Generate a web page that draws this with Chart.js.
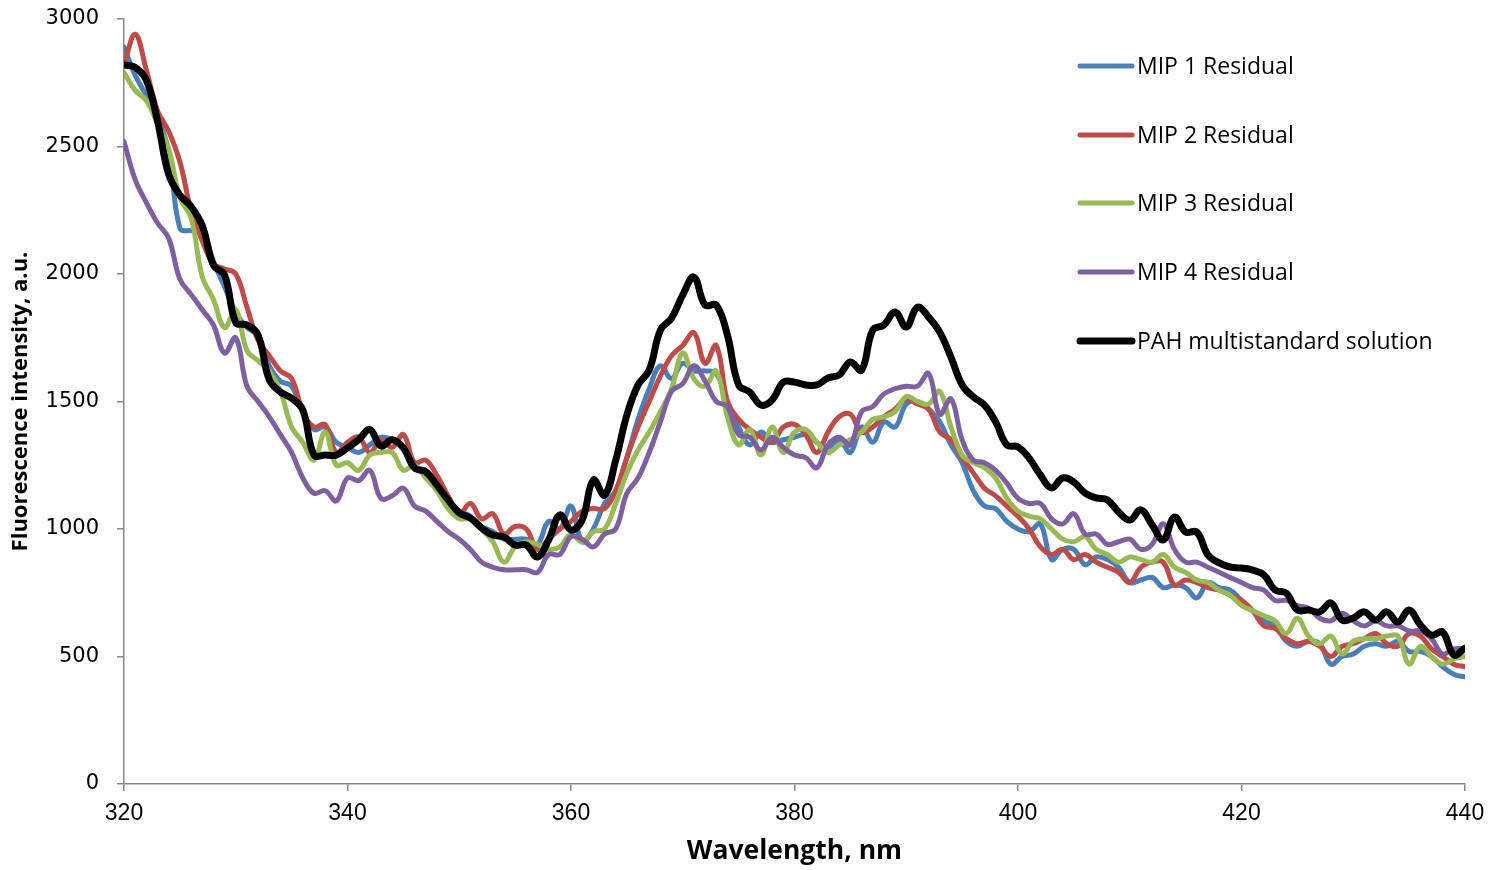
<!DOCTYPE html>
<html>
<head>
<meta charset="utf-8">
<script src="https://cdn.jsdelivr.net/npm/chart.js@4.4.1/dist/chart.umd.min.js"></script>
<style>
  html, body { margin: 0; padding: 0; background: #ffffff; }
  #wrap { width: 1494px; height: 870px; position: relative; }
</style>
</head>
<body>
<div id="wrap"><canvas id="chart" width="1494" height="870"></canvas></div>
<script>
// Emission wavelengths, nm
const wavelengths = [
  320,321,322,323,324,325,326,327,328,329,330,331,332,333,334,335,336,337,338,339,
  340,341,342,343,344,345,346,347,348,349,350,351,352,353,354,355,356,357,358,359,
  360,361,362,363,364,365,366,367,368,369,370,371,372,373,374,375,376,377,378,379,
  380,381,382,383,384,385,386,387,388,389,390,391,392,393,394,395,396,397,398,399,
  400,401,402,403,404,405,406,407,408,409,410,411,412,413,414,415,416,417,418,419,
  420,421,422,423,424,425,426,427,428,429,430,431,432,433,434,435,436,437,438,439,
  440
];

// Fluorescence intensity, a.u.
const mip1 = [
  2890,2780,2700,2620,2480,2180,2170,2170,2050,1950,1850,1790,1760,1640,1580,1560,1460,1390,1400,1340,
  1320,1300,1330,1360,1350,1320,1250,1210,1170,1110,1070,1050,1010,990,960,960,960,940,1030,1000,
  1090,950,1000,1100,1150,1280,1430,1550,1640,1590,1650,1620,1620,1610,1500,1400,1330,1380,1340,1350,
  1360,1370,1340,1320,1350,1300,1400,1340,1420,1400,1490,1500,1470,1420,1330,1260,1150,1090,1080,1030,
  1000,990,1020,880,920,920,860,890,880,850,790,800,810,770,780,770,730,790,770,760,
  720,680,640,620,560,540,560,550,470,500,510,540,550,540,560,520,520,500,460,430,
  420
];
const mip2 = [
  2820,2940,2800,2640,2560,2440,2250,2130,2040,2020,2000,1870,1740,1680,1620,1590,1460,1400,1410,1300,
  1340,1360,1300,1350,1320,1370,1260,1270,1210,1130,1060,1100,1040,1060,980,1010,1000,920,960,1000,
  1030,1070,1080,1080,1150,1280,1400,1500,1600,1680,1720,1770,1650,1720,1500,1430,1390,1360,1340,1400,
  1410,1370,1300,1380,1440,1450,1380,1400,1440,1470,1510,1490,1470,1380,1350,1280,1220,1160,1130,1090,
  1050,1000,930,900,920,880,900,870,850,830,790,850,870,870,780,800,790,770,760,740,
  720,680,620,610,570,550,560,540,500,540,550,570,590,550,540,590,580,530,500,470,
  460
];
const mip3 = [
  2790,2720,2680,2590,2490,2300,2220,1990,1900,1790,1860,1700,1660,1620,1540,1400,1340,1270,1380,1250,
  1260,1230,1290,1300,1300,1230,1250,1200,1150,1080,1040,1040,1000,950,870,930,950,940,920,930,
  980,950,990,1000,1100,1220,1310,1380,1460,1550,1690,1590,1560,1620,1440,1330,1390,1290,1400,1300,
  1380,1390,1340,1300,1330,1350,1380,1430,1440,1460,1520,1500,1490,1540,1400,1290,1260,1240,1200,1120,
  1070,1050,1040,1000,960,950,970,920,900,870,890,880,870,900,850,830,800,790,760,740,
  700,680,660,640,590,650,580,550,580,510,560,570,570,580,580,470,540,500,470,490,
  500
];
const mip4 = [
  2520,2370,2280,2200,2140,1980,1920,1860,1800,1690,1750,1560,1500,1440,1370,1300,1200,1140,1150,1110,
  1200,1190,1230,1120,1130,1160,1090,1070,1030,990,960,920,870,850,840,840,840,830,900,900,
  970,960,930,980,1000,1140,1200,1300,1420,1540,1570,1640,1580,1500,1480,1370,1360,1310,1360,1320,
  1290,1280,1240,1330,1360,1330,1460,1480,1530,1550,1560,1560,1610,1450,1510,1350,1270,1260,1230,1180,
  1120,1100,1100,1040,1020,1060,980,980,940,950,960,920,940,1020,920,870,870,850,830,810,
  790,770,760,720,720,700,690,650,640,670,640,620,640,620,620,600,600,570,510,530,
  530
];
const pahStandard = [
  2820,2810,2760,2600,2390,2310,2265,2190,2035,1996,1810,1800,1760,1585,1537,1513,1467,1290,1290,1290,
  1318,1350,1390,1325,1350,1318,1240,1225,1172,1114,1063,1043,1004,976,969,937,937,890,957,1055,
  996,1035,1192,1133,1270,1447,1565,1623,1780,1827,1918,1988,1878,1878,1760,1565,1537,1486,1506,1576,
  1576,1565,1565,1592,1604,1655,1623,1780,1800,1851,1792,1870,1831,1772,1674,1565,1518,1486,1420,1330,
  1322,1278,1212,1161,1200,1184,1141,1122,1114,1067,1035,1075,1016,957,1047,988,988,898,867,851,
  847,839,820,761,749,682,682,675,710,643,651,675,643,675,635,682,624,584,596,506,
  533
];

const seriesNames = ['MIP 1 Residual', 'MIP 2 Residual', 'MIP 3 Residual', 'MIP 4 Residual', 'PAH multistandard solution'];
const seriesColors = ['#4A7EBB', '#BE4B48', '#98B954', '#7D60A0', '#000000'];
const seriesWidths = [5, 5, 5, 5, 7];
const seriesValues = [mip1, mip2, mip3, mip4, pahStandard];

const xTicks = [320, 340, 360, 380, 400, 420, 440];
const yTicks = [0, 500, 1000, 1500, 2000, 2500, 3000];

const AXIS_GREY = '#878787';
const PLOT = { left: 124, right: 1465, top: 19, bottom: 784 };

const datasets = seriesValues.map((vals, i) => ({
  label: seriesNames[i],
  data: wavelengths.map((w, k) => ({ x: w, y: vals[k] })),
  borderColor: seriesColors[i],
  backgroundColor: seriesColors[i],
  borderWidth: seriesWidths[i],
  pointRadius: 0,
  tension: 0.4,
  fill: false,
  borderCapStyle: 'round',
  borderJoinStyle: 'round',
  order: seriesValues.length - i
}));

// Legend drawn inside the plot, stacked vertically on the right
const sideLegend = {
  id: 'sideLegend',
  afterDraw(chart) {
    const ctx = chart.ctx;
    const rows = [66, 135, 203, 272, 341];
    ctx.save();
    ctx.font = '23px "Open Sans", sans-serif';
    ctx.textBaseline = 'middle';
    ctx.textAlign = 'left';
    seriesNames.forEach((name, i) => {
      ctx.strokeStyle = seriesColors[i];
      ctx.lineWidth = seriesWidths[i];
      ctx.lineCap = 'round';
      ctx.beginPath();
      ctx.moveTo(1080, rows[i]);
      ctx.lineTo(1132, rows[i]);
      ctx.stroke();
      ctx.fillStyle = '#000000';
      ctx.fillText(name, 1137, rows[i] + 1);
    });
    ctx.restore();
  }
};

new Chart(document.getElementById('chart'), {
  type: 'line',
  data: { datasets },
  options: {
    responsive: false,
    animation: false,
    events: [],
    layout: { padding: { left: 0, right: 1494 - PLOT.right, top: PLOT.top, bottom: 0 } },
    plugins: { legend: { display: false }, tooltip: { enabled: false } },
    scales: {
      x: {
        type: 'linear',
        min: 320,
        max: 440,
        afterBuildTicks(scale) { scale.ticks = xTicks.map(v => ({ value: v })); },
        afterFit(scale) { scale.height = 870 - PLOT.bottom; },
        border: { color: AXIS_GREY, width: 1.5 },
        grid: { drawOnChartArea: false, drawTicks: true, tickLength: 7, color: AXIS_GREY, lineWidth: 1.5 },
        ticks: {
          font: { family: '"Liberation Sans", sans-serif', size: 23 },
          color: '#000000',
          padding: 9,
          maxRotation: 0,
          autoSkip: false,
          callback: (v) => String(v)
        },
        title: {
          display: true,
          text: 'Wavelength, nm',
          font: { family: '"Open Sans", sans-serif', size: 26.5, weight: 'bold' },
          color: '#000000',
          padding: { top: 0, bottom: 3 }
        }
      },
      y: {
        type: 'linear',
        min: 0,
        max: 3000,
        afterBuildTicks(scale) { scale.ticks = yTicks.map(v => ({ value: v })); },
        afterFit(scale) {
          scale.width = PLOT.left;
          // keep the plot top fixed by the layout padding alone
          scale.paddingTop = 0;
          scale.paddingBottom = 0;
        },
        border: { color: AXIS_GREY, width: 1.5 },
        grid: { drawOnChartArea: false, drawTicks: true, tickLength: 7, color: AXIS_GREY, lineWidth: 1.5 },
        ticks: {
          font: { family: '"DejaVu Sans", sans-serif', size: 21 },
          color: '#000000',
          padding: 18,
          callback: (v) => String(v)
        },
        title: {
          display: true,
          text: 'Fluorescence intensity, a.u.',
          font: { family: '"Open Sans", sans-serif', size: 22, weight: 'bold' },
          color: '#000000',
          padding: { top: 8, bottom: 0 }
        }
      }
    }
  },
  plugins: [sideLegend]
});
</script>
</body>
</html>
